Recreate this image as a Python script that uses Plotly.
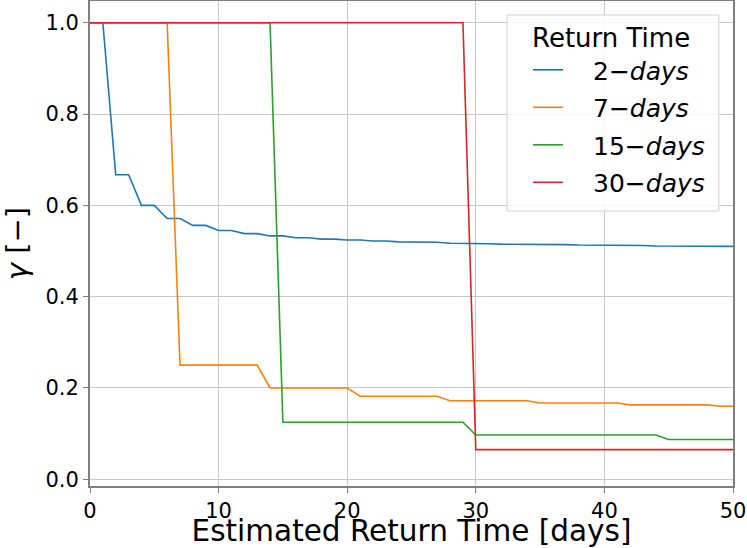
import plotly.graph_objects as go

x_days = list(range(0, 51))

gamma_2 = [1.0, 1.0, 0.667, 0.667, 0.6, 0.6, 0.571, 0.571, 0.556, 0.556,
           0.545, 0.545, 0.538, 0.538, 0.533, 0.533, 0.529, 0.529, 0.526, 0.526,
           0.524, 0.524, 0.522, 0.522, 0.520, 0.520, 0.519, 0.519, 0.517, 0.517,
           0.516, 0.516, 0.515, 0.515, 0.514, 0.514, 0.514, 0.514, 0.513, 0.513,
           0.512, 0.512, 0.512, 0.512, 0.511, 0.511, 0.511, 0.511, 0.510, 0.510,
           0.510]
gamma_7 = [1.0] * 7 + [0.25] * 7 + [0.2] * 7 + [0.182] * 7 + [0.172] * 7 + \
          [0.167] * 7 + [0.163] * 7 + [0.16] * 2
gamma_15 = [1.0] * 15 + [0.125] * 15 + [0.097] * 15 + [0.087] * 6
gamma_30 = [1.0] * 30 + [0.065] * 21

legend_title = "Return Time"
series_names = ["2−<i>days</i>", "7−<i>days</i>", "15−<i>days</i>", "30−<i>days</i>"]
series_values = [gamma_2, gamma_7, gamma_15, gamma_30]
colors = ["#1f77b4", "#ff7f0e", "#2ca02c", "#d62728"]

font_family = "DejaVu Sans"
pad = "\u2002\u2002"

fig = go.Figure()
for i, (name, vals, c) in enumerate(zip(series_names, series_values, colors)):
    fig.add_trace(go.Scatter(x=x_days, y=vals, mode="lines", name=pad + name,
                             legendgroup=f"g{i}",
                             line=dict(color=c, width=1.6)))

axis_common = dict(
    showline=True, linecolor="#808080", linewidth=2, mirror=True,
    ticks="outside", ticklen=5, tickwidth=1, tickcolor="#808080",
    showgrid=True, gridcolor="#c8c8c8", gridwidth=1, zeroline=False,
    tickfont=dict(family=font_family, size=21, color="black"),
    automargin=False,
)

# legend frame (matplotlib-style box)
fig.add_shape(type="rect", xref="paper", yref="paper",
              x0=0.6485, x1=0.978, y0=0.567, y1=0.9711,
              line=dict(color="#d0d0d0", width=1),
              fillcolor="rgba(255,255,255,0.85)", layer="above")
fig.add_annotation(text=legend_title, xref="paper", yref="paper",
                   x=0.8095, y=0.9237, xanchor="center", yanchor="middle",
                   showarrow=False, font=dict(family=font_family, size=26, color="black"))

fig.update_layout(
    width=747, height=548,
    margin=dict(l=90, r=14, t=1, b=62),
    paper_bgcolor="white", plot_bgcolor="white",
    font=dict(family=font_family, color="black"),
    xaxis=dict(range=[0, 50], tickvals=[0, 10, 20, 30, 40, 50],
               title=dict(text="Estimated Return Time [days]",
                          font=dict(size=29.5), standoff=8),
               **axis_common),
    yaxis=dict(range=[-0.0147, 1.0475], tickvals=[0, 0.2, 0.4, 0.6, 0.8, 1.0],
               tickformat=".1f",
               title=dict(text="<i>γ</i> [−]", font=dict(size=29), standoff=10),
               **axis_common),
    legend=dict(
        x=(528 - 90) / 643, y=0.905, xanchor="left", yanchor="top",
        bgcolor="rgba(0,0,0,0)", borderwidth=0,
        font=dict(family=font_family, size=25, color="black"),
        tracegroupgap=2,
    ),
    showlegend=True,
)

fig.write_html("out.html", config={"displayModeBar": False},
               post_script="document.body.style.margin='0';")
